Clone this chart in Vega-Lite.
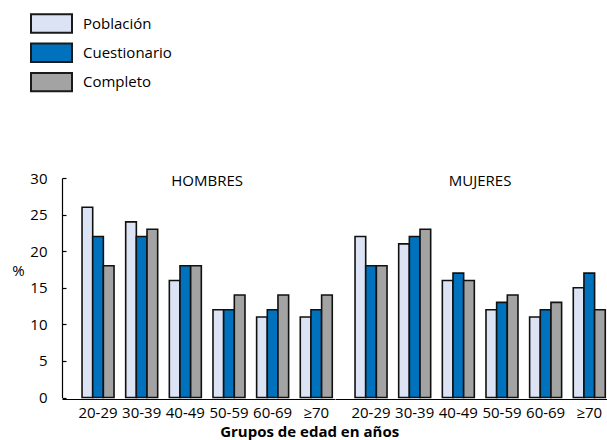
{
  "$schema": "https://vega.github.io/schema/vega-lite/v6.json",
  "padding": {"left": 11, "top": 12, "right": 0, "bottom": 0},
  "config": {
    "font": "Open Sans",
    "view": {"stroke": null},
    "axis": {"labelColor": "#000", "titleColor": "#000", "domainColor": "#000", "tickColor": "#000", "labelFontSize": 15, "titleFontSize": 15, "titleFontWeight": "normal", "grid": false, "domainWidth": 1.2, "tickWidth": 1.2},
    "legend": {"labelFontSize": 15, "labelColor": "#000"},
    "title": {"color": "#000"}
  },
  "title": {"text": "Grupos de edad en años", "orient": "bottom", "anchor": "middle", "fontSize": 15, "fontWeight": "bold", "offset": 5},
  "data": {"values": [
    {"sexo": "HOMBRES", "edad": "20-29", "serie": "Población", "valor": 26},
    {"sexo": "HOMBRES", "edad": "20-29", "serie": "Cuestionario", "valor": 22},
    {"sexo": "HOMBRES", "edad": "20-29", "serie": "Completo", "valor": 18},
    {"sexo": "HOMBRES", "edad": "30-39", "serie": "Población", "valor": 24},
    {"sexo": "HOMBRES", "edad": "30-39", "serie": "Cuestionario", "valor": 22},
    {"sexo": "HOMBRES", "edad": "30-39", "serie": "Completo", "valor": 23},
    {"sexo": "HOMBRES", "edad": "40-49", "serie": "Población", "valor": 16},
    {"sexo": "HOMBRES", "edad": "40-49", "serie": "Cuestionario", "valor": 18},
    {"sexo": "HOMBRES", "edad": "40-49", "serie": "Completo", "valor": 18},
    {"sexo": "HOMBRES", "edad": "50-59", "serie": "Población", "valor": 12},
    {"sexo": "HOMBRES", "edad": "50-59", "serie": "Cuestionario", "valor": 12},
    {"sexo": "HOMBRES", "edad": "50-59", "serie": "Completo", "valor": 14},
    {"sexo": "HOMBRES", "edad": "60-69", "serie": "Población", "valor": 11},
    {"sexo": "HOMBRES", "edad": "60-69", "serie": "Cuestionario", "valor": 12},
    {"sexo": "HOMBRES", "edad": "60-69", "serie": "Completo", "valor": 14},
    {"sexo": "HOMBRES", "edad": "≥70", "serie": "Población", "valor": 11},
    {"sexo": "HOMBRES", "edad": "≥70", "serie": "Cuestionario", "valor": 12},
    {"sexo": "HOMBRES", "edad": "≥70", "serie": "Completo", "valor": 14},
    {"sexo": "MUJERES", "edad": "20-29", "serie": "Población", "valor": 22},
    {"sexo": "MUJERES", "edad": "20-29", "serie": "Cuestionario", "valor": 18},
    {"sexo": "MUJERES", "edad": "20-29", "serie": "Completo", "valor": 18},
    {"sexo": "MUJERES", "edad": "30-39", "serie": "Población", "valor": 21},
    {"sexo": "MUJERES", "edad": "30-39", "serie": "Cuestionario", "valor": 22},
    {"sexo": "MUJERES", "edad": "30-39", "serie": "Completo", "valor": 23},
    {"sexo": "MUJERES", "edad": "40-49", "serie": "Población", "valor": 16},
    {"sexo": "MUJERES", "edad": "40-49", "serie": "Cuestionario", "valor": 17},
    {"sexo": "MUJERES", "edad": "40-49", "serie": "Completo", "valor": 16},
    {"sexo": "MUJERES", "edad": "50-59", "serie": "Población", "valor": 12},
    {"sexo": "MUJERES", "edad": "50-59", "serie": "Cuestionario", "valor": 13},
    {"sexo": "MUJERES", "edad": "50-59", "serie": "Completo", "valor": 14},
    {"sexo": "MUJERES", "edad": "60-69", "serie": "Población", "valor": 11},
    {"sexo": "MUJERES", "edad": "60-69", "serie": "Cuestionario", "valor": 12},
    {"sexo": "MUJERES", "edad": "60-69", "serie": "Completo", "valor": 13},
    {"sexo": "MUJERES", "edad": "≥70", "serie": "Población", "valor": 15},
    {"sexo": "MUJERES", "edad": "≥70", "serie": "Cuestionario", "valor": 17},
    {"sexo": "MUJERES", "edad": "≥70", "serie": "Completo", "valor": 12}
  ]},
  "facet": {"column": {"field": "sexo", "type": "nominal", "sort": ["HOMBRES", "MUJERES"], "header": {"labels": false, "title": null}, "title": null}},
  "spacing": 0,
  "spec": {
    "width": 272.5,
    "height": 219.5,
    "layer": [
      {
        "mark": {"type": "bar", "stroke": "#111", "strokeWidth": 1.6},
        "encoding": {
          "x": {"field": "edad", "type": "nominal", "sort": ["20-29", "30-39", "40-49", "50-59", "60-69", "≥70"],
                "scale": {"paddingInner": 0.267, "paddingOuter": 0.255, "align": 0.9},
                "axis": {"title": null, "ticks": false, "labelAngle": 0, "labelPadding": 6, "labelFontSize": 15}},
          "xOffset": {"field": "serie", "type": "nominal", "sort": ["Población", "Cuestionario", "Completo"], "scale": {"paddingInner": 0, "paddingOuter": 0}},
          "y": {"field": "valor", "type": "quantitative", "scale": {"domain": [0, 30], "nice": false},
                "axis": {"title": "%", "values": [0, 5, 10, 15, 20, 25, 30], "tickCount": 7, "labelOverlap": false, "labelFontSize": 15, "titleFontSize": 15, "tickSize": -4, "labelPadding": 19, "titleAngle": 0, "titleX": -44, "titleY": 92, "titleAlign": "center", "titleBaseline": "middle"}},
          "fill": {"field": "serie", "type": "nominal", "sort": ["Población", "Cuestionario", "Completo"],
                   "scale": {"domain": ["Población", "Cuestionario", "Completo"], "range": ["#dce3f4", "#0071bc", "#a3a3a3"]},
                   "legend": {"title": null, "orient": "none", "legendX": -32, "legendY": -165.5, "symbolType": "M-1,-0.45H1V0.45H-1Z", "symbolSize": 1681, "symbolStrokeColor": "#1a1a1a", "symbolStrokeWidth": 2, "clipHeight": 22, "rowPadding": 7.3, "labelOffset": 10}}
        }
      },
      {
        "transform": [{"filter": "datum.serie == 'Población' && datum.edad == '40-49'"}],
        "mark": {"type": "text", "fontSize": 15, "baseline": "middle", "dy": 3, "color": "#000"},
        "encoding": {
          "x": {"field": "edad", "type": "nominal", "bandPosition": 1.18},
          "y": {"datum": 30},
          "text": {"field": "sexo"}
        }
      }
    ]
  }
}
